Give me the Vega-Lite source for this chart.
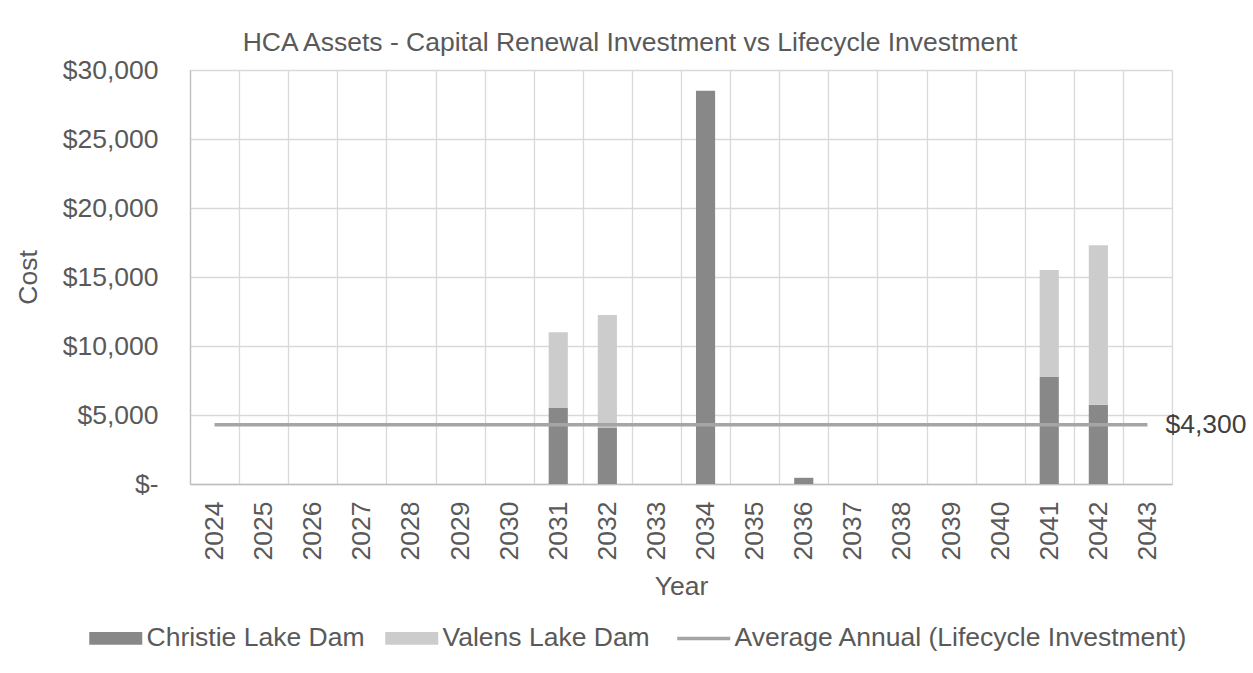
{
  "$schema": "https://vega.github.io/schema/vega-lite/v6.json",
  "autosize": "none",
  "width": 982,
  "height": 414,
  "padding": {"left": 190, "top": 70, "right": 81, "bottom": 189},
  "background": "white",
  "title": {
    "text": "HCA Assets - Capital Renewal Investment vs Lifecycle Investment",
    "anchor": "middle",
    "frame": "group",
    "dx": -51,
    "offset": 1,
    "fontSize": 26.5,
    "font": "Liberation Sans",
    "fontWeight": "normal",
    "color": "#595959"
  },
  "datasets": {
    "bars": [
      {"year": "2031", "series": "Christie Lake Dam", "cost": 5500},
      {"year": "2031", "series": "Valens Lake Dam", "cost": 5500},
      {"year": "2032", "series": "Christie Lake Dam", "cost": 4100},
      {"year": "2032", "series": "Valens Lake Dam", "cost": 8150},
      {"year": "2034", "series": "Christie Lake Dam", "cost": 28500},
      {"year": "2036", "series": "Christie Lake Dam", "cost": 450},
      {"year": "2041", "series": "Christie Lake Dam", "cost": 7750},
      {"year": "2041", "series": "Valens Lake Dam", "cost": 7750},
      {"year": "2042", "series": "Christie Lake Dam", "cost": 5750},
      {"year": "2042", "series": "Valens Lake Dam", "cost": 11550}
    ],
    "avg": [
      {"start": "2024", "end": "2043", "series": "Average Annual (Lifecycle Investment)", "cost": 4300}
    ]
  },
  "encoding": {
    "x": {
      "field": "year",
      "type": "nominal",
      "scale": {
        "domain": ["2024","2025","2026","2027","2028","2029","2030","2031","2032","2033","2034","2035","2036","2037","2038","2039","2040","2041","2042","2043"],
        "paddingInner": 0,
        "paddingOuter": 0
      },
      "axis": {
        "title": "Year",
        "labelAngle": -90,
        "tickBand": "extent",
        "grid": true,
        "ticks": false,
        "labelPadding": 17,
        "titlePadding": 14
      }
    }
  },
  "layer": [
    {
      "data": {"name": "bars"},
      "mark": {"type": "bar", "width": {"band": 0.39}},
      "encoding": {
        "y": {
          "field": "cost",
          "type": "quantitative",
          "aggregate": "sum",
          "stack": "zero",
          "scale": {"domain": [0, 30000], "nice": false},
          "axis": {
            "title": "Cost",
            "values": [0, 5000, 10000, 15000, 20000, 25000, 30000],
            "labelExpr": "datum.value == 0 ? '$-' : '$' + format(datum.value, ',')",
            "ticks": false,
            "labelPadding": 32,
            "titlePadding": 20,
            "grid": true
          }
        },
        "color": {
          "field": "series",
          "type": "nominal",
          "scale": {
            "domain": ["Christie Lake Dam", "Valens Lake Dam", "Average Annual (Lifecycle Investment)"],
            "range": ["#888888", "#cccccc", "#a5a5a5"]
          },
          "legend": {
            "orient": "none",
            "legendX": -101,
            "legendY": 555,
            "direction": "horizontal",
            "title": null,
            "symbolType": "M-0.473,-0.236H1.455V0.236H-0.473Z",
            "symbolSize": 3025,
            "labelFontSize": 26.5,
            "labelFont": "Liberation Sans",
            "labelColor": "#595959",
            "labelOffset": 31,
            "columnPadding": 20,
            "labelLimit": 800,
            "encode": {
              "symbols": {
                "update": {
                  "shape": {"signal": "datum.value === 'Average Annual (Lifecycle Investment)' ? 'M-0.473,0H1.455' : 'M-0.473,-0.236H1.455V0.236H-0.473Z'"},
                  "fill": {"signal": "datum.value === 'Average Annual (Lifecycle Investment)' ? 'transparent' : scale('color', datum.value)"},
                  "stroke": {"signal": "scale('color', datum.value)"},
                  "strokeWidth": {"signal": "datum.value === 'Average Annual (Lifecycle Investment)' ? 3.5 : 0"},
                  "opacity": {"value": 1},
                  "fillOpacity": {"value": 1},
                  "strokeOpacity": {"value": 1}
                }
              }
            }
          }
        },
        "order": {"field": "series", "sort": "ascending"}
      }
    },
    {
      "data": {"name": "avg"},
      "mark": {"type": "rule", "strokeWidth": 3.5},
      "encoding": {
        "x": {"field": "start", "type": "nominal"},
        "x2": {"field": "end"},
        "y": {"field": "cost", "type": "quantitative"},
        "color": {"field": "series", "type": "nominal"}
      }
    },
    {
      "data": {"name": "avg"},
      "mark": {"type": "text", "align": "left", "baseline": "middle", "dx": 18, "fontSize": 26.5, "font": "Liberation Sans", "color": "#404040"},
      "encoding": {
        "x": {"field": "end", "type": "nominal"},
        "y": {"field": "cost", "type": "quantitative"},
        "text": {"field": "cost", "type": "quantitative", "format": "$,.0f"}
      }
    }
  ],
  "config": {
    "view": {"stroke": null},
    "axis": {
      "labelFont": "Liberation Sans",
      "titleFont": "Liberation Sans",
      "labelFontSize": 26.5,
      "titleFontSize": 26.5,
      "titleFontWeight": "normal",
      "labelColor": "#595959",
      "titleColor": "#595959",
      "gridColor": "#d9d9d9",
      "gridWidth": 1.3,
      "domainColor": "#bfbfbf",
      "domainWidth": 1.3
    }
  }
}
